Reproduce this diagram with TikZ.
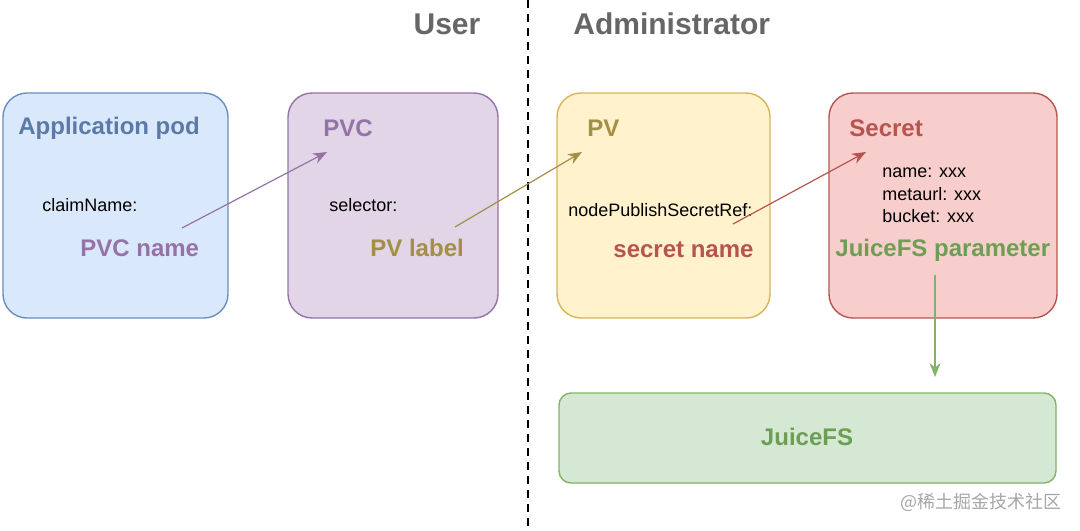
\documentclass[tikz,border=0pt]{standalone}
\usepackage{fontspec}
\setmainfont{Liberation Sans}
\newfontfamily\cjk{Noto Sans CJK SC}
\usetikzlibrary{arrows.meta}
\definecolor{bluefill}{HTML}{DAE8FC}
\definecolor{blueline}{HTML}{6C8EBF}
\definecolor{bluetext}{HTML}{5B7AA6}
\definecolor{purplefill}{HTML}{E1D5E7}
\definecolor{purpleline}{HTML}{9673A6}
\definecolor{yellowfill}{HTML}{FFF2CC}
\definecolor{yellowline}{HTML}{D6B656}
\definecolor{olivetext}{HTML}{A38F45}
\definecolor{redfill}{HTML}{F8CECC}
\definecolor{redline}{HTML}{B85450}
\definecolor{greenfill}{HTML}{D5E8D4}
\definecolor{greenline}{HTML}{82B366}
\definecolor{greentext}{HTML}{6D9E54}
\definecolor{headgray}{HTML}{666666}
\tikzset{
  box/.style={draw, line width=0.7pt, rounded corners=12pt, inner sep=0pt},
  title/.style={anchor=west, inner sep=0pt, font=\fontsize{12}{14}\selectfont\bfseries},
  field/.style={anchor=west, inner sep=0pt, font=\fontsize{9}{11}\selectfont},
  head/.style={inner sep=0pt, text=headgray, font=\fontsize{15}{18}\selectfont\bfseries},
  link/.style={line width=0.6pt, -{Stealth[length=7pt,width=5.5pt]}}
}
\begin{document}
\begin{tikzpicture}[x=0.5pt, y=-0.5pt]
  \useasboundingbox (0,0) rectangle (1080,530);
  % boxes
  \draw
    (115.5,205.5) node[box, fill=bluefill, draw=blueline, minimum width=112.5pt, minimum height=112.5pt] (pod){}
    (393,205.5) node[box, fill=purplefill, draw=purpleline, minimum width=105pt, minimum height=112.5pt] (pvc){}
    (663.5,205.5) node[box, fill=yellowfill, draw=yellowline, minimum width=106.5pt, minimum height=112.5pt] (pv){}
    (943,205.5) node[box, fill=redfill, draw=redline, minimum width=114pt, minimum height=112.5pt] (secret){}
    (807.5,438) node[box, rounded corners=6pt, fill=greenfill, draw=greenline, minimum width=248.5pt, minimum height=45pt] (juicefs){};
  % texts
  \draw
    (18,128) node[title, text=bluetext] (podtitle){Application pod}
    (42,205) node[field] (claim){claimName:}
    (80,248) node[title, text=purpleline] (pvcname){PVC name}
    (323,128) node[title, text=purpleline] (pvctitle){PVC}
    (329,205) node[field] (selector){selector:}
    (370,248) node[title, text=olivetext] (pvlabel){PV label}
    (587,128) node[title, text=olivetext] (pvtitle){PV}
    (568,210) node[field] (secretref){nodePublishSecretRef:}
    (613,250) node[title, text=redline] (secretname){secret name}
    (849,128) node[title, text=redline] (secrettitle){Secret}
    (882,173) node[field] (sname){name: xxx}
    (882,194) node[field] (smeta){metaurl: xxx}
    (882,216) node[field] (sbucket){bucket: xxx}
    (835,250) node[title, text=greentext] (param){JuiceFS parameter}
    (807,437) node[title, anchor=center, text=greentext] (fstitle){JuiceFS}
    (447,24) node[head] (user){User}
    (573,24) node[head, anchor=west] (admin){Administrator}
    (900,502) node[anchor=west, inner sep=0pt, text=black!35, font=\cjk\fontsize{9}{11}\selectfont] (mark){@稀土掘金技术社区};
  % arrow ends
  \coordinate (a0) at (182,228);
  \coordinate (a1) at (327,152);
  \coordinate (b0) at (455,227);
  \coordinate (b1) at (582,152);
  \coordinate (c0) at (733,224);
  \coordinate (c1) at (866,152);
  \coordinate (d0) at (935,275);
  \coordinate (d1) at (935,377);
  \coordinate (top) at (528,0);
  \coordinate (bottom) at (528,530);
  \draw[line width=1pt, dash pattern=on 4pt off 3pt] (top) -- (bottom);
  \begin{scope}[link]
    \draw[purpleline] (a0) to (a1);
    \draw[olivetext] (b0) to (b1);
    \draw[redline] (c0) to (c1);
    \draw[greenline] (d0) to (d1);
  \end{scope}
\end{tikzpicture}
\end{document}
